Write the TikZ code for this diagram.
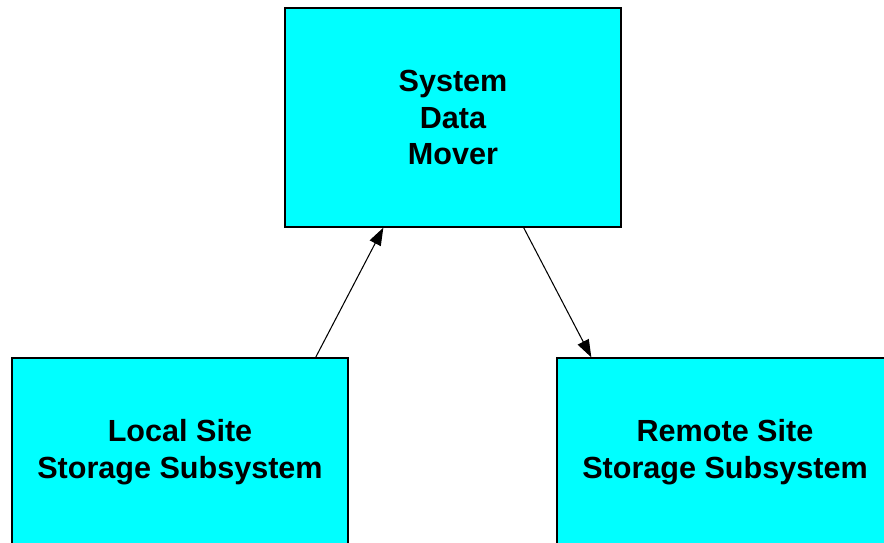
\documentclass[tikz,border=0pt]{standalone}
\usepackage{fontspec}
\setmainfont{Liberation Sans}
\usetikzlibrary{arrows.meta,calc,positioning}
\definecolor{boxcyan}{RGB}{0,255,255}
\tikzstyle{unit}  =[rectangle, draw=black, fill=boxcyan, line width=0.8pt,
                    align=center, inner sep=0pt,
                    font=\fontsize{17.4}{21}\selectfont\bfseries]
\tikzstyle{flow}  =[-{Triangle[length=10pt,width=7pt]}, line width=0.6pt]

\begin{document}
\begin{tikzpicture}[x=0.02cm,y=-0.02cm]
    \useasboundingbox (0,0) rectangle (884,542);
    \clip (0,0) rectangle (884,542);

    \draw (453,117.5) node (mover) [unit, minimum width=6.72cm, minimum height=4.38cm] {System\\Data\\Mover};
    \draw (180,452) node (local) [unit, minimum width=6.72cm, minimum height=3.76cm] {Local Site\\Storage Subsystem};
    \draw (725,452) node (remote) [unit, minimum width=6.72cm, minimum height=3.76cm] {Remote Site\\Storage Subsystem};

    \draw [flow] ($(local.north east)+(-33,0)$) to ($(mover.south west)+(99,0)$);
    \draw [flow] ($(mover.south east)+(-98,0)$) to ($(remote.north west)+(35,0)$);
\end{tikzpicture}
\end{document}
